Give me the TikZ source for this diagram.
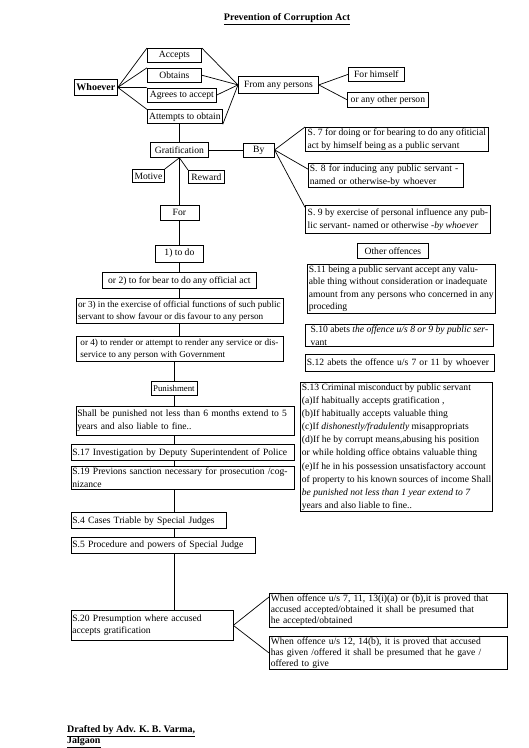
\documentclass[tikz,border=0pt]{standalone}
\usepackage{fontspec}
\setmainfont{Liberation Serif}
\usetikzlibrary{positioning}
\tikzstyle{box}=[rectangle, draw=black, line width=0.8pt, inner xsep=1.5pt, inner ysep=1.5pt, align=left, anchor=north west, minimum height=14pt, font=\fontsize{9.6}{12.5}\selectfont]
\tikzstyle{link}=[line width=0.7pt]

\begin{document}
\begin{tikzpicture}[x=1pt, y=1pt]
\useasboundingbox (0,0) rectangle (529,-748);

% Title
\node[font=\bfseries\fontsize{10}{12}\selectfont] (title) at (287,-19) {\underline{Prevention of Corruption Act}};

% Who takes, from whom
\node[box, font=\bfseries\fontsize{10}{12.5}\selectfont, minimum width=43pt, minimum height=16pt] (whoever) at (74,-79) {Whoever};
\node[box, minimum width=54pt] (accepts) at (147,-48) {Accepts};
\node[box, minimum width=54pt, below right=5pt and 0pt of accepts.south west] (obtains) {Obtains};
\node[box, minimum width=69pt, below right=5pt and 0pt of obtains.south west] (agrees) {Agrees to accept};
\node[box, minimum width=75pt, below right=7pt and 0pt of agrees.south west] (attempts) {Attempts to obtain};
\node[box, minimum width=80pt, minimum height=17pt] (from) at (238,-76) {From any persons};
\node[box, minimum width=56pt] (himself) at (348,-67) {For himself};
\node[box, minimum width=81pt, minimum height=15pt, below right=10pt and -1pt of himself.south west] (other) {or any other person};

% Gratification
\node[box, minimum width=58pt, minimum height=15pt] (grat) at (150,-142) {Gratification};
\node[box, minimum width=31pt, right=34pt of grat] (by) {By};
\node[box, minimum width=32pt, minimum height=13pt] (motive) at (132,-169) {Motive};
\node[box, minimum width=36pt, minimum height=13pt] (reward) at (188,-170) {Reward};
\node[box, minimum width=39pt, minimum height=15pt, below=47pt of grat] (for) {For};

% Purpose
\node[box, minimum width=48pt, minimum height=17pt, below=24pt of for] (todo) {1) to do};
\node[box, minimum width=154pt, minimum height=16pt, below=10pt of todo] (or2) {or 2) to for bear to do any official act};
\node[box, font=\fontsize{9.2}{12}\selectfont, minimum width=207pt, minimum height=25pt, below=9pt of or2] (or3) {or 3) in the exercise of official functions of such public\\servant to show favour or dis favour to any person};
\node[box, font=\fontsize{9.2}{12}\selectfont, minimum width=207pt, minimum height=25pt, below=12pt of or3] (or4) {or 4) to render or attempt to render any service or dis-\\service to any person with Government};

% Punishment and procedure
\node[box, font=\fontsize{8.8}{11}\selectfont, minimum width=46pt, below=19pt of or4, xshift=-5.5pt] (pun) {Punishment};
\node[box, text width=215pt, minimum height=29pt, below=10pt of pun, xshift=11pt] (shall) {Shall be punished not less than 6 months extend to 5\\years and also liable to fine..};
\node[box, text width=220pt, minimum height=16pt, below right=9pt and -5pt of shall.south west] (s17) {S.17 Investigation by Deputy Superintendent of Police};
\node[box, text width=220pt, below right=5pt and 0pt of s17.south west] (s19) {S.19 Previons sanction necessary for prosecution /cog-\\nizance};
\node[box, text width=152pt, minimum height=16pt, below right=23pt and 0pt of s19.south west] (s4) {S.4 Cases Triable by Special Judges};
\node[box, text width=181pt, minimum height=16pt, below right=8pt and 0pt of s4.south west] (s5) {S.5 Procedure and powers of Special Judge};
\node[box, text width=159pt, minimum height=30pt, below right=56pt and 0pt of s5.south west] (s20) {S.20 Presumption where accused\\accepts gratification};

% Offences
\node[box, minimum width=183pt] (s7) at (305,-127) {S. 7 for doing or for bearing to do any ofiticial\\act by himself being as a public servant};
\node[box, text width=152pt, below right=11pt and 3pt of s7.south west] (s8) {S. 8 for inducing any public servant -\\named or otherwise-by whoever};
\node[box, minimum width=185pt, minimum height=28pt, below right=17pt and -3pt of s8.south west] (s9) {S. 9 by exercise of personal influence any pub-\\lic servant- named or otherwise \textit{-by whoever}};
\node[box, minimum width=71pt, minimum height=15pt, below right=9pt and 52pt of s9.south west] (othoff) {Other offences};
\node[box, minimum width=187pt, below right=5pt and -50pt of othoff.south west] (s11) {S.11 being a public servant accept any valu-\\able thing without consideration or inadequate\\amount from any persons who concerned in any\\proceding};
\node[box, minimum width=188pt, below right=10pt and -2pt of s11.south west] (s10) {S.10 abets \textit{the offence u/s 8 or 9 by public ser-}\\vant};
\node[box, text width=186pt, minimum height=17pt, below right=7pt and 0pt of s10.south west] (s12) {S.12 abets the offence u/s 7 or 11 by whoever};
\node[box, font=\fontsize{9.6}{13.1}\selectfont, minimum width=192pt, below right=10pt and -5pt of s12.south west] (s13) {S.13 Criminal misconduct by public servant\\(a)If habitually accepts gratification ,\\(b)If habitually accepts valuable thing\\(c)If \textit{dishonestly/fradulently} misappropriats\\(d)If he by corrupt means,abusing his position\\or while holding office obtains valuable thing\\(e)If he in his possession unsatisfactory account\\of property to his known sources of income Shall\\\textit{be punished not less than 1 year extend to 7}\\years and also liable to fine..};

% Presumption
\node[box, font=\fontsize{9.6}{11}\selectfont, text width=235pt] (pr1) at (269,-593) {When offence u/s 7, 11, 13(i)(a) or (b),it is proved that\\accused accepted/obtained it shall be presumed that\\he accepted/obtained};
\node[box, font=\fontsize{9.6}{11}\selectfont, text width=235pt, below right=8pt and 0pt of pr1.south west] (pr2) {When offence u/s 12, 14(b), it is proved that accused\\has given /offered it shall be presumed that he gave /\\offered to give};

% Credit
\node[anchor=north west, align=left, inner sep=0pt, font=\bfseries\fontsize{10}{11.5}\selectfont] (credit) at (67,-725) {\underline{Drafted by Adv. K. B. Varma,}\\\underline{Jalgaon}};

% Links, top
\draw[link] (whoever.east) -- (accepts.north west);
\draw[link] (whoever.east) -- (obtains.north west);
\draw[link] (whoever.east) -- (agrees.north west);
\draw[link] (whoever.east) -- (attempts.north west);
\draw[link] (accepts.north east) -- (from.west);
\draw[link] (obtains.east) -- (from.west);
\draw[link] (agrees.east) -- (from.west);
\draw[link] (attempts.south east) -- (from.west);
\draw[link] (from.east) -- (himself.west);
\draw[link] (from.east) -- (other.west);

% Links, gratification
\draw[link] (grat.north |- attempts.south) -- (grat.north);
\draw[link] (grat.east) -- (by.west);
\draw[link] (grat.south) -- (motive.north east);
\draw[link] (grat.south) -- (reward.north west);
\draw[link] (grat.south) -- (for.north);
\draw[link] (by.east) -- (s7.north west);
\draw[link] (by.east) -- ([yshift=-6pt]s8.north west);
\draw[link] (by.east) -- ([yshift=-2pt]s9.north west);

% Links, trunk
\draw[link] (for.south) -- (todo.north);
\draw[link] (todo.south) -- (todo.south |- or2.north);
\draw[link] (todo.south |- or2.south) -- (todo.south |- or3.north);
\draw[link] (todo.south |- or3.south) -- (todo.south |- or4.north);
\draw[link] (pun.north |- or4.south) -- (pun.north);
\draw[link] (pun.south) -- (pun.south |- shall.north);
\draw[link] (pun.south |- shall.south) -- (pun.south |- s17.north);
\draw[link] (pun.south |- s17.south) -- (pun.south |- s19.north);
\draw[link] (pun.south |- s19.south) -- (pun.south |- s4.north);
\draw[link] (pun.south |- s4.south) -- (pun.south |- s5.north);
\draw[link] (pun.south |- s5.south) -- (pun.south |- s20.north);

% Links, presumption
\draw[link] (s20.east) -- ([yshift=-4pt]pr1.north west);
\draw[link] (s20.east) -- (pr2.west);

\end{tikzpicture}
\end{document}
